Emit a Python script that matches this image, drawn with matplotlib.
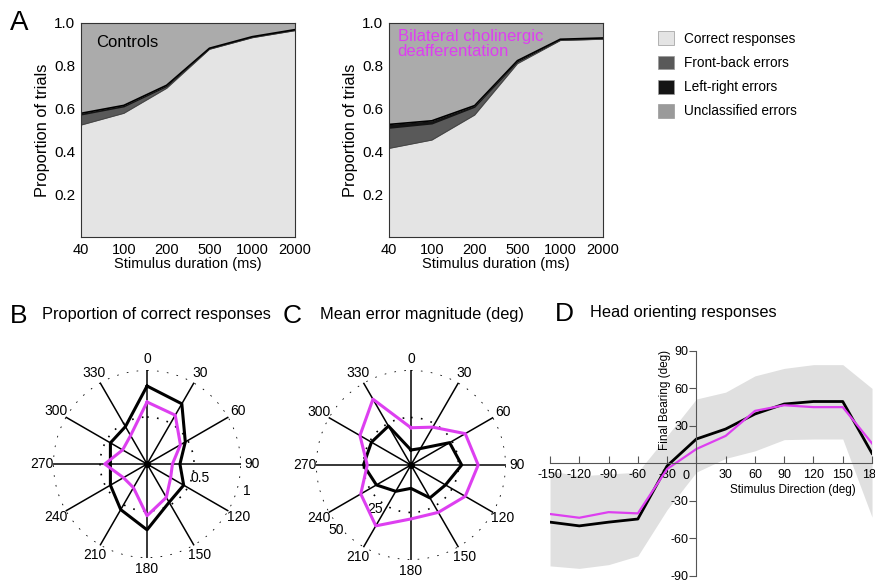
import numpy as np
import matplotlib
matplotlib.use("Agg")
import matplotlib.pyplot as plt
from matplotlib.patches import Patch

plt.rcParams['font.family'] = ['Liberation Sans', 'DejaVu Sans']
plt.rcParams['axes.unicode_minus'] = False

# panel A: stacked proportions
durations = ['40', '100', '200', '500', '1000', '2000']
ctrl_correct = [0.523, 0.578, 0.695, 0.877, 0.931, 0.964]
ctrl_frontback = [0.047, 0.030, 0.008, 0.0, 0.0, 0.0]
ctrl_leftright = [0.008, 0.007, 0.006, 0.005, 0.005, 0.005]
les_correct = [0.414, 0.453, 0.570, 0.810, 0.918, 0.924]
les_frontback = [0.094, 0.075, 0.036, 0.008, 0.0, 0.0]
les_leftright = [0.018, 0.015, 0.008, 0.006, 0.006, 0.006]

# panels B and C: polar profiles
angles = [0, 30, 60, 90, 120, 150, 180, 210, 240, 270, 300, 330]
b_ctrl = [0.83, 0.74, 0.47, 0.35, 0.45, 0.47, 0.70, 0.56, 0.45, 0.39, 0.45, 0.46]
b_lesion = [0.66, 0.60, 0.41, 0.27, 0.29, 0.41, 0.55, 0.29, 0.29, 0.45, 0.30, 0.35]
c_ctrl = [7.9, 10, 23.5, 26.7, 21, 20, 12.3, 16, 21, 25, 24, 23.7]
c_lesion = [19.6, 23, 33, 35.4, 33, 28.8, 28.4, 37, 30.5, 23, 31, 40]

# panel D: head orienting
d_x = [-150, -120, -90, -60, -30, 0, 30, 60, 90, 120, 150, 180]
d_ctrl = [-47, -50, -47, -44.5, -2, 19.5, 27.5, 39.5, 47.5, 49.5, 49.5, 8]
d_lesion = [-40.5, -43.5, -39, -40, -4.5, 11.5, 22, 42, 46.5, 45, 45, 16]
d_upper = [-6, -10, -8.5, -7, 22, 51.5, 57, 70, 76, 79, 79, 60]
d_lower = [-82, -84, -81, -74, -37, -7, 4, 10, 19, 19.5, 19.5, -43]

col_correct = '#e4e4e4'
col_fb = '#595959'
col_lr = '#141414'
col_unc = '#ababab'
magenta = '#dd3ff0'

fig = plt.figure(figsize=(8.75, 5.82), dpi=100)


def stacked(ax, correct, fb, lr):
    x = np.arange(len(durations))
    c = np.array(correct)
    f = c + np.array(fb)
    l = f + np.array(lr)
    ax.fill_between(x, 0, 1, color=col_unc, lw=0)
    ax.fill_between(x, 0, l, color=col_lr, lw=0)
    ax.fill_between(x, 0, f, color=col_fb, lw=0)
    ax.fill_between(x, 0, c, color=col_correct, lw=0)
    ax.plot(x, c, color='#444444', lw=0.6)
    ax.plot(x, l, color='k', lw=1.2)
    ax.set_xlim(0, len(durations) - 1)
    ax.set_ylim(0, 1)
    ax.set_xticks(x)
    ax.set_xticklabels(durations, fontsize=10.5)
    ax.set_yticks([0.2, 0.4, 0.6, 0.8, 1.0])
    ax.set_yticklabels(['0.2', '0.4', '0.6', '0.8', '1.0'], fontsize=11)
    ax.tick_params(length=0, pad=4)
    ax.set_xlabel('Stimulus duration (ms)', fontsize=10.5, labelpad=0)
    ax.set_ylabel('Proportion of trials', fontsize=11.8, labelpad=3)
    for s in ax.spines.values():
        s.set_linewidth(0.8)
        s.set_color('#333333')


axA1 = fig.add_axes([0.0926, 0.5928, 0.2446, 0.3677])
stacked(axA1, ctrl_correct, ctrl_frontback, ctrl_leftright)
axA1.text(0.35, 0.91, 'Controls', fontsize=12, va='center')

axA2 = fig.add_axes([0.4446, 0.5928, 0.2446, 0.3677])
stacked(axA2, les_correct, les_frontback, les_leftright)
axA2.text(0.2, 0.97, 'Bilateral cholinergic\ndeafferentation', fontsize=12,
          va='top', color=magenta, linespacing=1.0)

handles = [Patch(facecolor=c, edgecolor='#999999', lw=0.5)
           for c in [col_correct, col_fb, col_lr, '#9a9a9a']]
fig.legend(handles, ['Correct responses', 'Front-back errors', 'Left-right errors',
                     'Unclassified errors'],
           loc='upper left', bbox_to_anchor=(0.752, 0.946), frameon=False,
           fontsize=9.8, handlelength=1.2, handleheight=1.2, handletextpad=0.7,
           labelspacing=0.7, borderpad=0, borderaxespad=0)


def polar(rect, ctrl, lesion, rmax, rlabels):
    ax = fig.add_axes(rect, projection='polar')
    ax.set_theta_zero_location('N')
    ax.set_theta_direction(-1)
    ax.set_ylim(0, rmax)
    ax.set_xticks([])
    ax.set_yticks([])
    ax.grid(False)
    ax.spines['polar'].set_visible(False)
    ax.patch.set_alpha(0)
    th = np.linspace(0, 2 * np.pi, 400)
    for r in [rmax / 2, rmax]:
        ax.plot(th, np.full_like(th, r), color='k', lw=1.2, ls=(0, (1, 5)))
    for a in angles:
        t = np.deg2rad(a)
        ax.plot([t, t], [0, rmax], color='k', lw=1.1)
        ax.text(t, rmax * 1.12, str(a), ha='center', va='center', fontsize=10)
    rad = np.deg2rad(angles + [angles[0]])
    ax.plot(rad, ctrl + [ctrl[0]], color='k', lw=2.2, zorder=3)
    ax.plot(rad, lesion + [lesion[0]], color=magenta, lw=2.2, zorder=4)
    ax.plot([0], [0], 'ko', ms=4, zorder=5)
    for ang, r, s in rlabels:
        ax.text(np.deg2rad(ang), r, s, ha='center', va='center', fontsize=10)
    return ax


polar([0.0606, 0.0412, 0.2149, 0.323], b_ctrl, b_lesion, 1.0,
      [(105, 0.58, '0.5'), (105, 1.1, '1')])
polar([0.3611, 0.0378, 0.2171, 0.3265], c_ctrl, c_lesion, 50,
      [(219, 30, '25'), (229, 52, '50')])

axD = fig.add_axes([0.6286, 0.0105, 0.368, 0.3866])
axD.fill_between(d_x, d_lower, d_upper, color='#e0e0e0', lw=0)
axD.plot(d_x, d_ctrl, color='k', lw=2.0)
axD.plot(d_x, d_lesion, color=magenta, lw=1.6)
axD.set_xlim(-150, 180)
axD.set_ylim(-90, 90)
axD.spines['left'].set_position(('data', 0))
axD.spines['bottom'].set_position(('data', 0))
axD.spines['top'].set_visible(False)
axD.spines['right'].set_visible(False)
for s in ['left', 'bottom']:
    axD.spines[s].set_color('#555555')
    axD.spines[s].set_linewidth(0.8)
axD.set_xticks(d_x)
axD.set_xticklabels(['' if v == 0 else str(v) for v in d_x], fontsize=9)
axD.set_yticks([-90, -60, -30, 30, 60, 90])
axD.set_yticklabels(['-90', '-60', '-30', '30', '60', '90'], fontsize=9)
axD.tick_params(axis='x', direction='in', length=5, pad=4, color='#555555')
axD.tick_params(axis='y', direction='out', length=5, pad=1, color='#555555')
# the zero label sits left of the vertical axis
axD.text(-11, -5.5, '0', ha='center', va='top', fontsize=9)
axD.set_xlabel('Stimulus Direction (deg)', fontsize=8.5)
axD.xaxis.set_label_coords(0.755, 0.409)
axD.set_ylabel('Final Bearing (deg)', fontsize=8.5)
axD.yaxis.set_label_coords(0.377, 0.78)
axD.patch.set_alpha(0)

# panel letters and titles
fig.text(0.011, 1 - 23 / 582, 'A', fontsize=20, va='center')
fig.text(0.011, 1 - 316 / 582, 'B', fontsize=19, va='center')
fig.text(0.048, 1 - 315 / 582, 'Proportion of correct responses', fontsize=11.8, va='center')
fig.text(0.323, 1 - 316 / 582, 'C', fontsize=19, va='center')
fig.text(0.366, 1 - 315 / 582, 'Mean error magnitude (deg)', fontsize=11.8, va='center')
fig.text(0.634, 1 - 314 / 582, 'D', fontsize=19, va='center')
fig.text(0.674, 1 - 313 / 582, 'Head orienting responses', fontsize=11.8, va='center')

fig.savefig('out.png', dpi=100)
